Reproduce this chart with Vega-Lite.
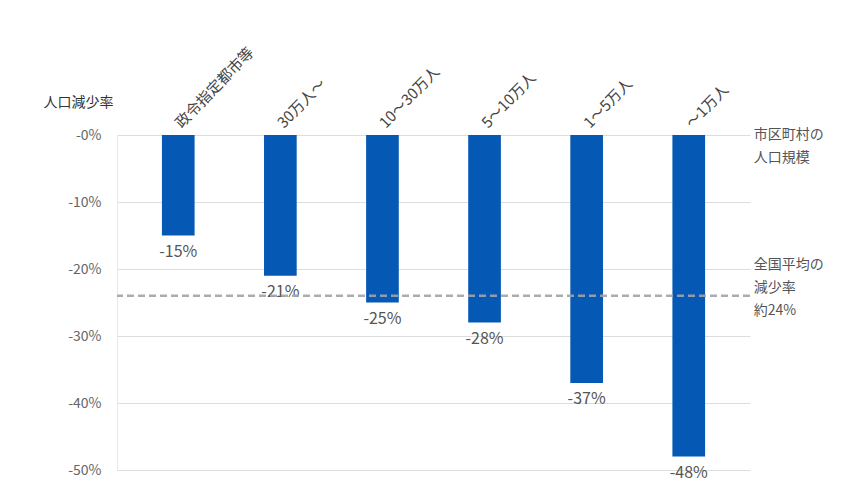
{
  "$schema": "https://vega.github.io/schema/vega-lite/v6.json",
  "autosize": {"type": "none"},
  "padding": {"left": 117, "top": 135, "right": 109, "bottom": 18},
  "width": 633,
  "height": 335,
  "background": "white",
  "config": {
    "font": "Noto Sans CJK JP",
    "view": {"stroke": null}
  },
  "data": {
    "values": [
      {"size": "政令指定都市等", "rate": -15, "label": "-15%"},
      {"size": "30万人〜", "rate": -21, "label": "-21%"},
      {"size": "10〜30万人", "rate": -25, "label": "-25%"},
      {"size": "5〜10万人", "rate": -28, "label": "-28%"},
      {"size": "1〜5万人", "rate": -37, "label": "-37%"},
      {"size": "〜1万人", "rate": -48, "label": "-48%"}
    ]
  },
  "encoding": {
    "x": {
      "field": "size",
      "type": "nominal",
      "sort": null,
      "scale": {"paddingInner": 0.68, "paddingOuter": 0.44},
      "axis": {
        "orient": "top",
        "title": null,
        "labelAngle": -46,
        "labelAlign": "left",
        "labelBaseline": "middle",
        "labelPadding": 10,
        "labelFontSize": 15,
        "labelColor": "#444444",
        "ticks": false,
        "domain": false,
        "grid": false
      }
    }
  },
  "layer": [
    {
      "mark": {"type": "bar", "color": "#0558b4"},
      "encoding": {
        "y": {
          "field": "rate",
          "type": "quantitative",
          "scale": {"domain": [-50, 0], "nice": false},
          "axis": {
            "values": [0, -10, -20, -30, -40, -50],
            "labelExpr": "'-' + abs(datum.value) + '%'",
            "labelFontSize": 14,
            "labelColor": "#666666",
            "labelPadding": 16,
            "ticks": false,
            "domain": true,
            "domainColor": "#e8e8e8",
            "grid": true,
            "gridColor": "#dddddd",
            "title": "人口減少率",
            "titleAngle": 0,
            "titleAlign": "center",
            "titleBaseline": "middle",
            "titleX": -39,
            "titleY": -33,
            "titleFontSize": 14,
            "titleFontWeight": "normal",
            "titleColor": "#333333"
          }
        }
      }
    },
    {
      "mark": {"type": "text", "baseline": "top", "dy": 8, "fontSize": 16, "color": "#555555"},
      "encoding": {
        "y": {"field": "rate", "type": "quantitative"},
        "text": {"field": "label"}
      }
    },
    {
      "data": {"values": [{"avg": -24}]},
      "mark": {"type": "rule", "color": "#a0a4a8", "strokeWidth": 2.5, "strokeDash": [7, 4], "opacity": 0.9},
      "encoding": {
        "x": null,
        "y": {"field": "avg", "type": "quantitative"}
      }
    },
    {
      "data": {
        "values": [
          {"size": "〜1万人", "v": 0, "note": ["市区町村の", "人口規模"]}
        ]
      },
      "mark": {"type": "text", "align": "left", "baseline": "middle", "dx": 65, "dy": 0, "fontSize": 14, "lineHeight": 23, "color": "#555555"},
      "encoding": {
        "y": {"field": "v", "type": "quantitative"},
        "text": {"field": "note"}
      }
    },
    {
      "data": {
        "values": [
          {"size": "〜1万人", "v": -24, "note": ["全国平均の", "減少率", "約24%"]}
        ]
      },
      "mark": {"type": "text", "align": "left", "baseline": "middle", "dx": 65, "dy": -31, "fontSize": 14, "lineHeight": 23, "color": "#555555"},
      "encoding": {
        "y": {"field": "v", "type": "quantitative"},
        "text": {"field": "note"}
      }
    }
  ]
}
